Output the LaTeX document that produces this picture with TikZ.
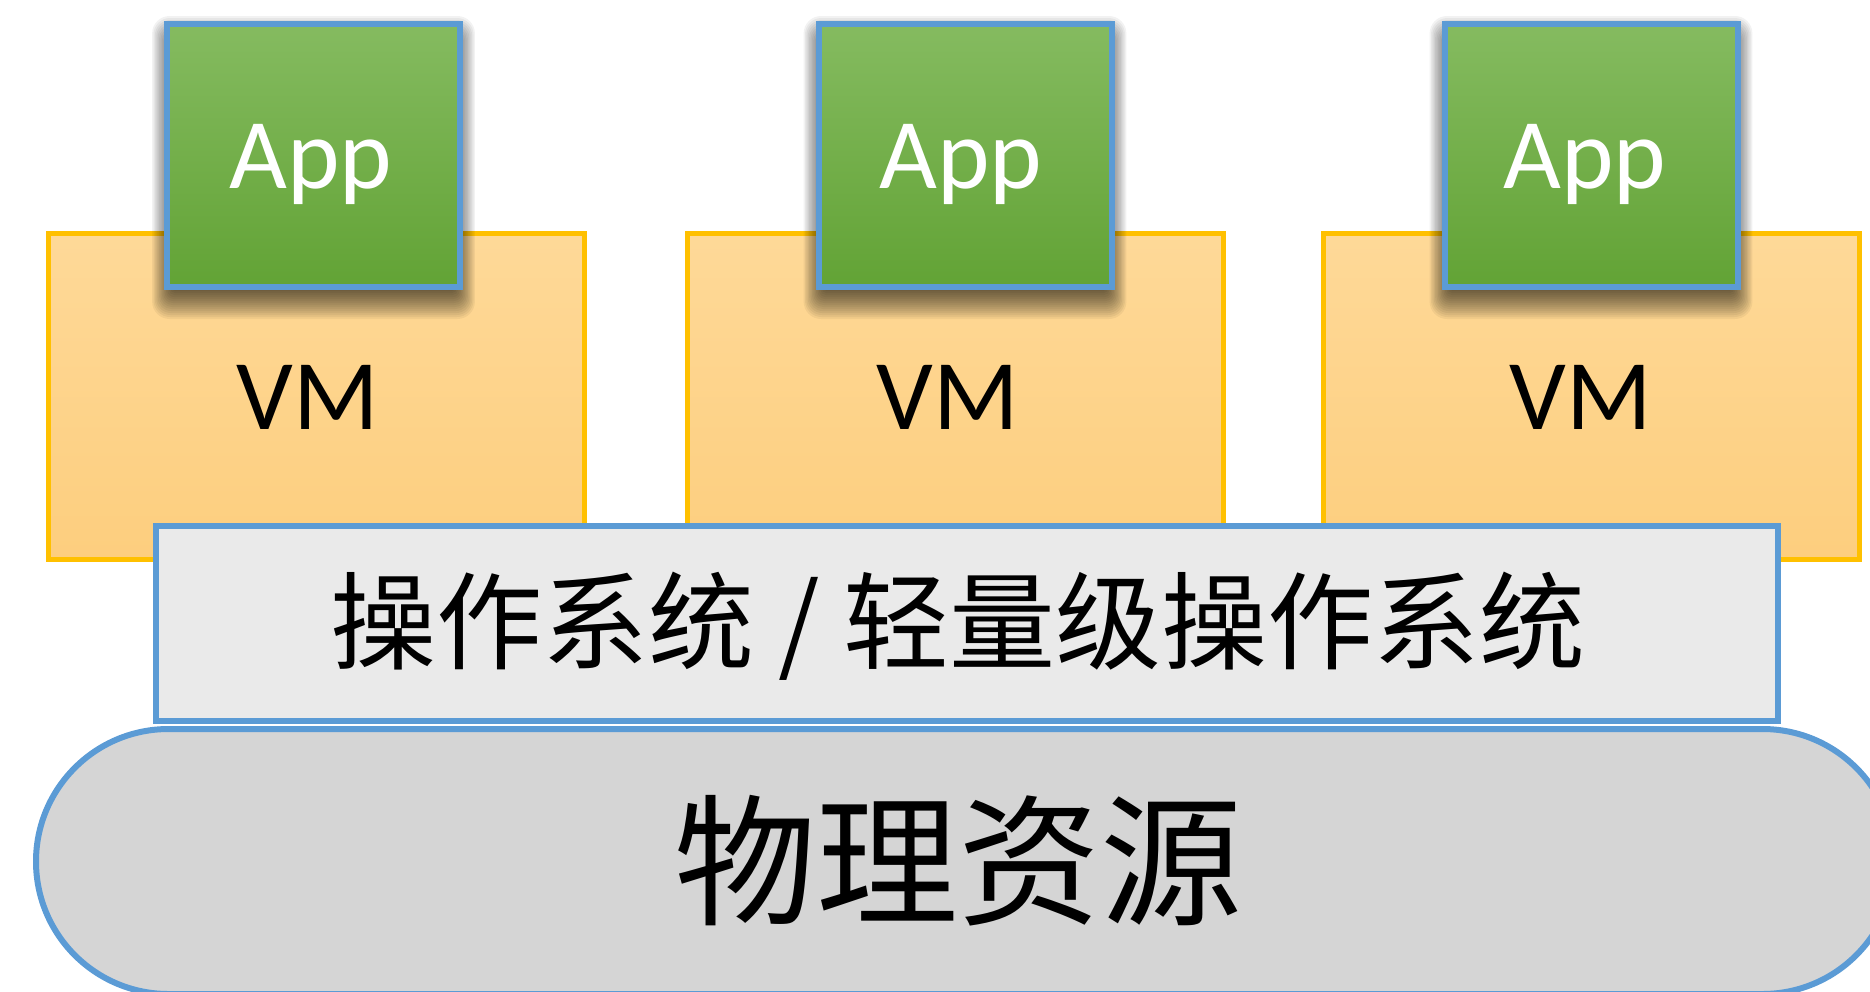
\documentclass[tikz,border=0pt]{standalone}
\usepackage{fontspec}
\setmainfont{Carlito}
\newfontfamily\cjk{Noto Sans CJK SC}
\usetikzlibrary{calc}

\definecolor{edgeblue}{HTML}{5B9BD5}
\definecolor{vmedge}{HTML}{FFC000}
\definecolor{vmtop}{HTML}{FED998}
\definecolor{vmbottom}{HTML}{FDCE7E}
\definecolor{apptop}{HTML}{85BB60}
\definecolor{appbottom}{HTML}{62A335}
\definecolor{osgray}{HTML}{EAEAEA}
\definecolor{hwgray}{HTML}{D5D5D5}

\pgfdeclarelayer{vms}
\pgfdeclarelayer{shade}
\pgfsetlayers{vms,shade,main}

\tikzset{
  vmbox/.style={draw=vmedge, line width=5pt, top color=vmtop, bottom color=vmbottom,
    minimum width=536pt, minimum height=326pt, inner sep=0pt},
  appbox/.style={draw=edgeblue, line width=6pt, top color=apptop, bottom color=appbottom,
    minimum width=293pt, minimum height=263pt, inner sep=0pt},
  shadelayer/.style={fill=black, opacity=0.05},
  oslayer/.style={draw=edgeblue, line width=6pt, fill=osgray,
    minimum width=1622pt, minimum height=195pt, inner sep=0pt},
  hwlayer/.style={draw=edgeblue, line width=6pt, fill=hwgray, rounded corners=132.5pt,
    minimum width=1859pt, minimum height=265pt, inner sep=0pt},
  apptext/.style={text=white, anchor=base, inner sep=0pt, font=\fontsize{100}{120}\selectfont},
  vmtext/.style={text=black, anchor=base, inner sep=0pt, font=\fontsize{100}{120}\selectfont},
  ostext/.style={text=black, anchor=base, inner sep=0pt, font=\cjk\fontsize{106}{120}\selectfont},
  hwtext/.style={text=black, anchor=base, inner sep=0pt, font=\cjk\fontsize{142}{160}\selectfont}
}

% soft drop shadow under a node: nested translucent rectangles
\newcommand\dropshade[1]{%
  \begin{pgfonlayer}{shade}
  \foreach \k in {0,...,17}{%
    \pgfmathsetmacro\ey{17-2*\k}%
    \pgfmathsetmacro\ex{0.7*\ey}%
    \pgfmathsetmacro\nx{-\ex}%
    \pgfmathsetmacro\ny{-\ey}%
    \pgfmathsetmacro\rc{max(1,(\ey+18)/2)}%
    \fill[shadelayer, rounded corners=\rc pt]
      ($(#1.north west)+(\nx,\ny+12)$) rectangle ($(#1.south east)+(\ex,\ey+12)$);
  }%
  \end{pgfonlayer}}

\begin{document}
\begin{tikzpicture}[x=1pt, y=-1pt]
\useasboundingbox (0,0) rectangle (1870,991);
\clip (0,0) rectangle (1870,991);

% virtual machines
\begin{pgfonlayer}{vms}
\node[vmbox] (vm1) at (316,396.5) {};
\node[vmbox] (vm2) at (955.5,396.5) {};
\node[vmbox] (vm3) at (1591.5,396.5) {};
\end{pgfonlayer}

% applications sitting on the VMs
\node[appbox] (app1) at (313.5,155.5) {};
\node[appbox] (app2) at (965,155.5) {};
\node[appbox] (app3) at (1591,155.5) {};
\dropshade{app1}
\dropshade{app2}
\dropshade{app3}

% labels
\node[vmtext] (vml1) at (308,429) {VM};
\node[vmtext] (vml2) at (947.5,429) {VM};
\node[vmtext] (vml3) at (1581,429) {VM};
\node[apptext] (appl1) at (311,188) {App};
\node[apptext] (appl2) at (961,188) {App};
\node[apptext] (appl3) at (1585,188) {App};

% physical resources and operating system layers
\node[hwlayer] (hw) at (965.5,861.5) {};
\node[oslayer] (os) at (967,623.5) {};
\node[ostext] (osl) at (958,661) {操作系统 / 轻量级操作系统};
\node[hwtext] (hwl) at (958,914) {物理资源};
\end{tikzpicture}
\end{document}
